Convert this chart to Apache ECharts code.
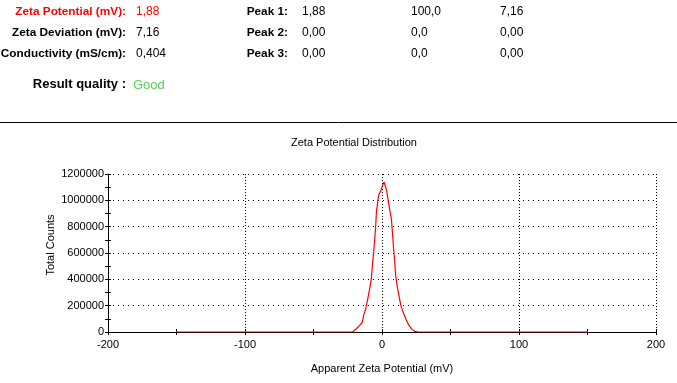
<!DOCTYPE html>
<html>
<head>
<meta charset="utf-8">
<script src="https://cdn.jsdelivr.net/npm/echarts@6/dist/echarts.min.js"></script>
<style>
html,body{margin:0;padding:0;background:#fff;}
#c{width:677px;height:383px;}
</style>
</head>
<body>
<div id="c"></div>
<script>
// Distribution curve: apparent zeta potential (mV) and total counts
var zetaMv = [-150, -21.6, -18.7, -16.3, -14.3, -13.4, -11.9, -10.4, -9.0, -7.8, -7.0, -6.1, -5.3, -4.6, -4.1, -2.9, -2.2, -0.5, 0.7, 1.5, 2.0, 3.2, 4.4, 5.6, 6.9, 7.6, 8.5, 9.3, 10.0, 11.0, 12.4, 13.7, 15.4, 17.3, 19.7, 21.9, 23.9, 26.3, 150];
var totalCounts = [0, 0, 25000, 50000, 75000, 126000, 176000, 252000, 327000, 403000, 504000, 605000, 705000, 806000, 907000, 1008000, 1045000, 1083000, 1121000, 1139000, 1140000, 1083000, 1008000, 932000, 856000, 756000, 630000, 529000, 428000, 353000, 277000, 202000, 151000, 101000, 50000, 20000, 5000, 0, 0];

// Axis tick labels
var xTicks = [-200, -100, 0, 100, 200];
var yTicks = [0, 200000, 400000, 600000, 800000, 1000000, 1200000];

// Header results
var resultLabels = ['Zeta Potential (mV):', 'Zeta Deviation (mV):', 'Conductivity (mS/cm):'];
var resultValues = ['1,88', '7,16', '0,404'];
var peakLabels = ['Peak 1:', 'Peak 2:', 'Peak 3:'];
var peakMean = ['1,88', '0,00', '0,00'];
var peakArea = ['100,0', '0,0', '0,0'];
var peakWidth = ['7,16', '0,00', '0,00'];
var qualityLabel = 'Result quality :';
var qualityValue = 'Good';

var FONT = '"Liberation Sans", Arial, sans-serif';
var rowsY = [12, 33, 54];

var graphics = [];
function txt(x, y, s, opt) {
  graphics.push({
    type: 'text', x: x, y: y, silent: true,
    style: Object.assign({
      text: s, fill: '#000', font: 'normal 12px ' + FONT,
      textAlign: 'left', textVerticalAlign: 'middle'
    }, opt || {})
  });
}
for (var i = 0; i < 3; i++) {
  var red = i === 0;
  txt(126, rowsY[i], resultLabels[i], {font: 'bold 11.8px ' + FONT, textAlign: 'right', fill: red ? '#ff0000' : '#000'});
  txt(136, rowsY[i], resultValues[i], {fill: red ? '#ff0000' : '#000'});
  txt(288, rowsY[i], peakLabels[i], {font: 'bold 11.8px ' + FONT, textAlign: 'right'});
  txt(302, rowsY[i], peakMean[i]);
  txt(411, rowsY[i], peakArea[i]);
  txt(500, rowsY[i], peakWidth[i]);
}
txt(126, 84, qualityLabel, {font: 'bold 13px ' + FONT, textAlign: 'right'});
txt(133, 85, qualityValue, {font: 'normal 13px ' + FONT, fill: '#5ccc5c'});
graphics.push({type: 'line', silent: true, shape: {x1: 0, y1: 122.5, x2: 677, y2: 122.5}, style: {stroke: '#000', lineWidth: 1}});

var axisLbl = {color: '#000', fontFamily: FONT, fontSize: 11};
var blk = {color: '#000', width: 1};

var chart = echarts.init(document.getElementById('c'), null, {renderer: 'canvas'});
chart.setOption({
  animation: false,
  backgroundColor: '#fff',
  title: {
    text: 'Zeta Potential Distribution', left: 349, top: 132, textAlign: 'center',
    textStyle: {fontFamily: FONT, fontSize: 11, fontWeight: 'normal', color: '#000'}
  },
  graphic: graphics,
  grid: {left: 108, right: 21, top: 174, bottom: 51},
  xAxis: [{
    type: 'value', min: xTicks[0], max: xTicks[xTicks.length - 1], interval: 100,
    position: 'bottom',
    name: 'Apparent Zeta Potential (mV)', nameLocation: 'middle', nameGap: 31,
    nameTextStyle: {fontFamily: FONT, fontSize: 11, color: '#000'},
    axisLine: {show: true, onZero: false, lineStyle: blk},
    axisTick: {show: true, length: 3, lineStyle: blk},
    minorTick: {show: true, splitNumber: 2, length: 3, lineStyle: blk},
    axisLabel: Object.assign({margin: 7, formatter: function (v) { return String(v); }}, axisLbl),
    splitLine: {show: true, lineStyle: {color: '#000', width: 1, type: [1, 2]}}
  }, {
    type: 'value', min: xTicks[0], max: xTicks[xTicks.length - 1], interval: 100,
    position: 'bottom',
    axisLine: {show: false, onZero: false},
    axisTick: {show: true, inside: true, length: 3, lineStyle: blk},
    minorTick: {show: true, splitNumber: 2, length: 3, lineStyle: blk},
    axisLabel: {show: false},
    splitLine: {show: false}
  }],
  yAxis: [{
    type: 'value', min: yTicks[0], max: yTicks[yTicks.length - 1], interval: 200000,
    position: 'left',
    name: 'Total Counts', nameLocation: 'middle', nameGap: 52, nameMoveOverlap: false,
    nameTextStyle: {fontFamily: FONT, fontSize: 11, color: '#000', padding: [0, 0, 0, 16]},
    axisLine: {show: true, onZero: false, lineStyle: blk},
    axisTick: {show: true, length: 3, lineStyle: blk},
    minorTick: {show: true, splitNumber: 2, length: 3, lineStyle: blk},
    axisLabel: Object.assign({margin: 4, formatter: function (v) { return String(v); }}, axisLbl),
    splitLine: {show: true, lineStyle: {color: '#000', width: 1, type: [1, 4]}}
  }, {
    type: 'value', min: yTicks[0], max: yTicks[yTicks.length - 1], interval: 200000,
    position: 'left',
    axisLine: {show: false, onZero: false},
    axisTick: {show: true, inside: true, length: 3, lineStyle: blk},
    minorTick: {show: true, splitNumber: 2, length: 3, lineStyle: blk},
    axisLabel: {show: false},
    splitLine: {show: false}
  }],
  series: [{
    type: 'line',
    xAxisIndex: 0, yAxisIndex: 0,
    data: zetaMv.map(function (v, i) { return [v, totalCounts[i]]; }),
    showSymbol: false, symbol: 'none',
    lineStyle: {color: '#ff0000', width: 1.2},
    itemStyle: {color: '#ff0000'},
    z: 5
  }]
});
</script>
</body>
</html>
